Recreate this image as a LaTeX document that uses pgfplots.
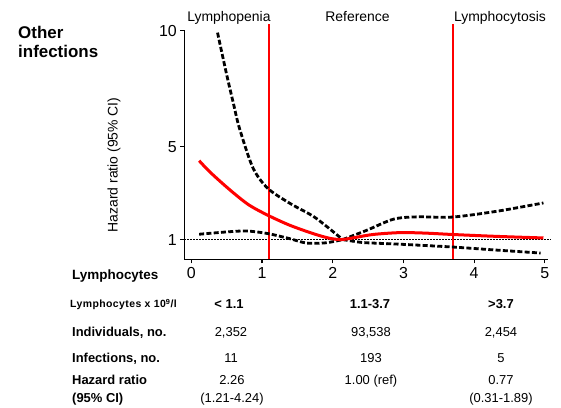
\documentclass[border=0pt]{standalone}
\usepackage{fontspec}
\setmainfont{Liberation Sans}
\usepackage{pgfplots}
\pgfplotsset{compat=1.18}
\newcommand\fs[1]{\fontsize{#1}{#1}\selectfont}
\begin{document}
\begin{tikzpicture}
\useasboundingbox (-184.3bp,-148.7bp) rectangle (376.7bp,259.3bp);
\begin{axis}[
  at={(0,0)}, anchor=south west,
  x=70.7bp, y=23.2bp,
  xmin=-0.1, xmax=5.04, ymin=0.15, ymax=10.05,
  enlargelimits=false, clip=false,
  axis lines=left,
  axis line style={-, line width=1.3bp},
  xtick={0,...,5}, ytick={1,5,10},
  tick align=outside, major tick length=4bp,
  tick style={black, line width=1.2bp},
  /pgf/number format/assume math mode=true,
  ticklabel style={font=\fs{16}},
  xticklabel style={yshift=-1bp},
  ci/.style={black, line width=2.8bp, dash pattern=on 5bp off 2.3bp, smooth, tension=0.5},
]
% reference line at HR = 1
\addplot[black, line width=1.2bp, dash pattern=on 1.2bp off 1.8bp] coordinates {(-0.1,1) (5.08,1)};
% cut-offs
\addplot[red, line width=1.3bp] coordinates {(1.1,0.15) (1.1,10.28)};
\addplot[red, line width=1.3bp] coordinates {(3.7,0.15) (3.7,10.28)};
% confidence limits
\addplot[ci] coordinates {
  (0.37,9.92) (0.5,8.1) (0.6,6.8) (0.68,5.8) (0.87,4.1) (1.08,3.21) (1.4,2.55)
  (1.75,1.95) (2.14,1.0)};
\addplot[ci] coordinates {
  (2.14,1.0) (2.48,1.40) (2.86,1.88) (3.2,1.98) (3.69,1.97) (4.32,2.22) (4.98,2.58)};
\addplot[ci] coordinates {
  (0.11,1.23) (0.5,1.33) (0.78,1.37) (1.08,1.26) (1.39,1.04) (1.63,0.85) (1.9,0.86) (2.14,1.0)};
\addplot[ci] coordinates {
  (2.14,1.0) (2.4,0.88) (2.57,0.85) (2.95,0.80) (3.69,0.68) (4.3,0.55) (4.94,0.42)};
% hazard ratio
\addplot[red, line width=3bp, smooth] coordinates {
  (0.11,4.40) (0.25,3.95) (0.44,3.42) (0.62,2.95) (0.82,2.48) (1.08,2.05) (1.39,1.62)
  (1.72,1.26) (1.95,1.06) (2.12,1.0) (2.3,1.08) (2.57,1.22) (2.95,1.30) (3.3,1.28)
  (3.69,1.22) (4.3,1.14) (4.98,1.07)};
\end{axis}
\begin{scope}[shift={(-184.3bp,259.3bp)}, x=1bp, y=-1bp, every node/.style={inner sep=0pt}]
  \node[anchor=base west, font=\fs{17}\bfseries] at (18,39) {Other};
  \node[anchor=base west, font=\fs{17}\bfseries] at (18,57.5) {infections};
  \node[anchor=base, font=\fs{14}] at (229,22) {Lymphopenia};
  \node[anchor=base, font=\fs{14}] at (357.5,22) {Reference};
  \node[anchor=base, font=\fs{14}] at (500,22) {Lymphocytosis};
  \node[rotate=90, font=\fs{14}] at (114,165) {Hazard ratio (95\% CI)};
  % table under the axis
  \node[anchor=base west, font=\fs{13.5}\bfseries] at (72,280) {Lymphocytes};
  \node[anchor=base west, font=\fs{10.5}\bfseries\addfontfeature{LetterSpace=4}] at (70,308) {Lymphocytes x 10\textsuperscript{9}/l};
  \node[anchor=base, font=\fs{13}\bfseries] at (229,309) {< 1.1};
  \node[anchor=base, font=\fs{13}\bfseries] at (370,309) {1.1-3.7};
  \node[anchor=base, font=\fs{13}\bfseries] at (501,309) {>3.7};
  \node[anchor=base west, font=\fs{13}\bfseries] at (72,337) {Individuals, no.};
  \node[anchor=base, font=\fs{13}] at (231,337) {2,352};
  \node[anchor=base, font=\fs{13}] at (371,337) {93,538};
  \node[anchor=base, font=\fs{13}] at (501,337) {2,454};
  \node[anchor=base west, font=\fs{13}\bfseries] at (72,363) {Infections, no.};
  \node[anchor=base, font=\fs{13}] at (231,363) {11};
  \node[anchor=base, font=\fs{13}] at (371,363) {193};
  \node[anchor=base, font=\fs{13}] at (501,363) {5};
  \node[anchor=base west, font=\fs{13}\bfseries] at (72,385) {Hazard ratio};
  \node[anchor=base, font=\fs{13}] at (232,385) {2.26};
  \node[anchor=base, font=\fs{13}] at (371,385) {1.00 (ref)};
  \node[anchor=base, font=\fs{13}] at (501,385) {0.77};
  \node[anchor=base west, font=\fs{13}\bfseries] at (72,403) {(95\% CI)};
  \node[anchor=base, font=\fs{13}] at (232,403) {(1.21-4.24)};
  \node[anchor=base, font=\fs{13}] at (501,403) {(0.31-1.89)};
\end{scope}
\end{tikzpicture}
\end{document}
